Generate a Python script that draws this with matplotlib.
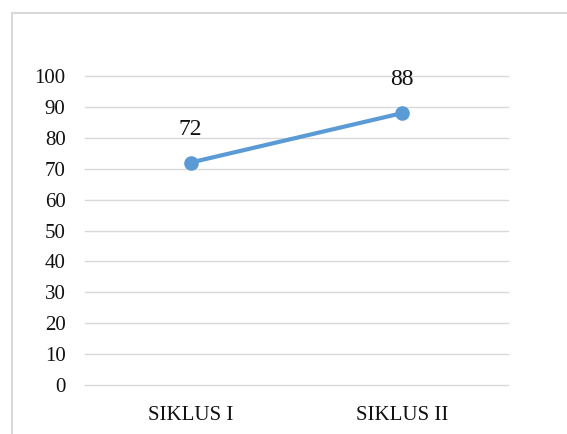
import matplotlib
matplotlib.use("Agg")
import matplotlib.pyplot as plt
from matplotlib.patches import Rectangle

categories = ["SIKLUS I", "SIKLUS II"]
values = [72, 88]
yticks = [0, 10, 20, 30, 40, 50, 60, 70, 80, 90, 100]

plt.rcParams["font.family"] = ["Liberation Serif", "DejaVu Serif"]

fig = plt.figure(figsize=(5.67, 4.34), dpi=100)
fig.patch.set_facecolor("white")

# chart border (cut off at right and bottom)
fig.patches.append(Rectangle((12 / 567, -0.1), 1.2, 1 - 13 / 434 + 0.1,
                             transform=fig.transFigure, fill=False,
                             edgecolor="#d9d9d9", linewidth=1.5))

ax = fig.add_axes([85 / 567, 49 / 434, 423 / 567, 309 / 434])
x = list(range(len(categories)))
ax.plot(x, values, color="#5b9bd5", linewidth=3, marker="o", markersize=9.5,
        solid_capstyle="round", zorder=3)
for xi, v in zip(x, values):
    ax.annotate(str(v), (xi, v), xytext=(0, 24), textcoords="offset points",
                ha="center", va="center", fontsize=17, color="#111111")

ax.set_xlim(-0.5, len(categories) - 0.5)
ax.set_ylim(0, 100)
ax.set_yticks(yticks)
ax.set_xticks(x)
ax.set_xticklabels(categories)
ax.grid(axis="y", color="#d9d9d9", linewidth=1)
for gl in ax.get_ygridlines():
    gl.set_clip_on(False)
ax.set_axisbelow(True)
for s in ax.spines.values():
    s.set_visible(False)
ax.tick_params(axis="both", length=0, labelsize=15, colors="#111111")
ax.tick_params(axis="y", pad=14)
ax.tick_params(axis="x", pad=15)

fig.savefig("out.png", dpi=100)
